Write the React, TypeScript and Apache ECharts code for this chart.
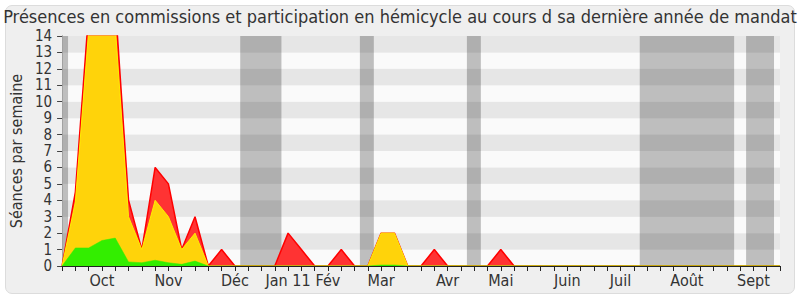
import React, { useEffect, useRef } from "react";
import * as echarts from "echarts";

const TITLE = "Présences en commissions et participation en hémicycle au cours d sa dernière année de mandat";
const Y_NAME = "Séances par semaine";

// weekly index 0..54
const MONTH_LABELS: [number, string][] = [
  [3, "Oct"], [8, "Nov"], [13, "Déc"], [17, "Jan 11"], [20, "Fév"], [24, "Mar"],
  [29, "Avr"], [33, "Mai"], [38, "Juin"], [42, "Juil"], [47, "Août"], [52, "Sept"],
];

// total (red)
const redValues = [
  0, 4.5, 15.4, 17, 16, 4, 1, 6, 5, 1, 3, 0, 1, 0, 0, 0, 0, 2, 1, 0,
  0, 1, 0, 0, 2, 2, 0, 0, 1, 0, 0, 0, 0, 1, 0, 0, 0, 0, 0, 0,
  0, 0, 0, 0, 0, 0, 0, 0, 0, 0, 0, 0, 0, 0, 0,
];
// hémicycle (yellow)
const yellowValues = [
  0, 3.9, 14.3, 16, 14.6, 3, 1, 4, 3, 1, 2, 0, 0, 0, 0, 0, 0, 0, 0, 0,
  0, 0, 0, 0, 2, 2, 0, 0, 0, 0, 0, 0, 0, 0, 0, 0, 0, 0, 0, 0,
  0, 0, 0, 0, 0, 0, 0, 0, 0, 0, 0, 0, 0, 0, 0,
];
// commissions (green)
const greenValues = [
  0, 1.1, 1.1, 1.55, 1.7, 0.25, 0.2, 0.35, 0.2, 0.1, 0.3, 0, 0, 0, 0, 0, 0, 0, 0, 0,
  0, 0, 0, 0, 0.06, 0.06, 0, 0, 0, 0, 0, 0, 0, 0, 0, 0, 0, 0, 0, 0,
  0, 0, 0, 0, 0, 0, 0, 0, 0, 0, 0, 0, 0, 0, 0,
];

// vacation periods (in week units)
const vacationBands: [number, number][] = [
  [0, 0.45], [13.4, 16.5], [22.4, 23.45], [30.45, 31.5], [43.45, 50.55], [51.45, 53.55],
];

const FONT = "'DejaVu Sans Condensed', 'DejaVu Sans', sans-serif";

export default function App() {
  const ref = useRef<HTMLDivElement>(null);
  useEffect(() => {
    document.body.style.margin = "0";
    if (!ref.current) return;
    const chart = echarts.init(ref.current, undefined, { renderer: "svg" });
    const labelMap: Record<number, string> = {};
    MONTH_LABELS.forEach(([i, s]) => (labelMap[i] = s));
    const toPairs = (arr: number[]) => arr.map((v, i) => [i, v]);

    chart.setOption({
      animation: false,
      title: {
        text: TITLE,
        left: "center",
        top: 9,
        padding: 0,
        textStyle: { fontFamily: FONT, fontSize: 18, lineHeight: 14, fontWeight: "normal", color: "#333" },
      },
      grid: { left: 62, right: 20, top: 36, bottom: 34 },
      xAxis: [
        {
          type: "value",
          min: 0,
          max: 54,
          interval: 1,
          z: 10,
          axisLine: { show: true, lineStyle: { color: "#222", width: 1 } },
          axisTick: { show: true, length: 5, lineStyle: { color: "#222" } },
          axisLabel: {
            formatter: (v: number) => labelMap[v] ?? "",
            fontFamily: FONT,
            fontSize: 16,
            color: "#333",
            margin: 6,
            showMinLabel: true,
            showMaxLabel: true,
          },
          splitLine: { show: false },
        },
        {
          type: "value",
          position: "top",
          min: 0,
          max: 54,
          interval: 1,
          z: 10,
          axisLine: { show: false },
          axisTick: { show: true, inside: true, length: 1.5, lineStyle: { color: "#222" } },
          axisLabel: { show: false },
          splitLine: { show: false },
        },
      ],
      yAxis: [
        {
          type: "value",
          min: 0,
          max: 14,
          interval: 1,
          name: Y_NAME,
          nameLocation: "middle",
          nameGap: 37,
          nameTextStyle: { fontFamily: FONT, fontSize: 16, color: "#333" },
          axisLine: { show: true, lineStyle: { color: "#444" } },
          axisTick: { show: true, length: 5, lineStyle: { color: "#444" } },
          axisLabel: { fontFamily: FONT, fontSize: 15, lineHeight: 14, color: "#333", margin: 10 },
          splitLine: { show: false },
          splitArea: { show: true, areaStyle: { color: ["#fafafa", "#e6e6e6"] } },
        },
        {
          type: "value",
          position: "right",
          min: 0,
          max: 14,
          interval: 1,
          axisLine: { show: true, lineStyle: { color: "#d0d0d0" } },
          axisTick: { show: false },
          axisLabel: { show: false },
          splitLine: { show: false },
        },
      ],
      series: [
        {
          type: "line",
          data: [[0, 0]],
          z: 1,
          symbol: "none",
          lineStyle: { opacity: 0 },
          silent: true,
          markArea: {
            silent: true,
            itemStyle: { color: "rgba(0,0,0,0.24)" },
            data: vacationBands.map(([a, b]) => [{ xAxis: a }, { xAxis: b }]),
          },
        },
        {
          type: "line",
          data: toPairs(redValues),
          z: 2,
          symbol: "none",
          lineStyle: { color: "#ff0000", width: 1.5 },
          areaStyle: { color: "#ff3333", opacity: 1 },
        },
        {
          type: "line",
          data: toPairs(yellowValues),
          z: 3,
          symbol: "none",
          lineStyle: { color: "#ffee00", width: 1 },
          areaStyle: { color: "#ffd30a", opacity: 1 },
        },
        {
          type: "line",
          data: toPairs(greenValues),
          z: 4,
          symbol: "none",
          lineStyle: { color: "#33ee00", width: 0.5 },
          areaStyle: { color: "#33ee00", opacity: 1 },
        },
      ],
    });
    return () => chart.dispose();
  }, []);

  return (
    <div style={{ position: "relative", width: 800, height: 300, background: "#fff" }}>
      <div
        style={{
          position: "absolute",
          left: 5,
          top: 5,
          width: 788,
          height: 287,
          borderRadius: 7,
          background: "#efefef",
          border: "1px solid #dcdcdc",
        }}
      />
      <div ref={ref} style={{ position: "absolute", left: 0, top: 0, width: 800, height: 300 }} />
    </div>
  );
}
